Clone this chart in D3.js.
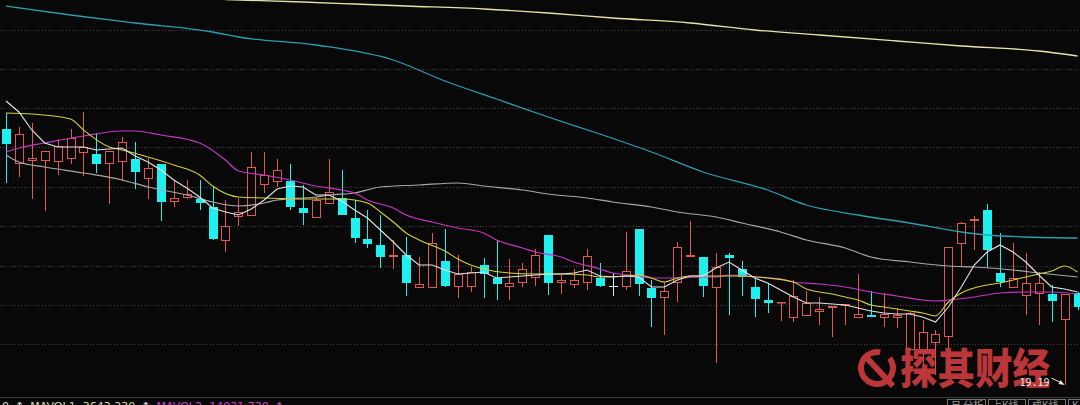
<!DOCTYPE html>
<html><head><meta charset="utf-8">
<script src="https://cdn.jsdelivr.net/npm/d3@7"></script>
<style>html,body{margin:0;padding:0;background:#080808;overflow:hidden}</style>
</head><body><svg id="c" width="1080" height="405"></svg>
<script>
// ---- candle data (price units) ----
const opens  = [24.31,23.61,23.67,23.67,23.65,23.71,23.83,23.81,23.61,23.65,23.71,23.31,23.61,22.85,22.93,22.91,22.75,22.07,22.55,22.57,23.19,23.25,23.27,22.73,22.53,22.81,22.93,22.53,22.11,21.99,21.75,21.79,21.13,21.13,21.67,21.15,21.15,21.59,21.33,21.15,21.23,21.33,22.19,21.23,21.19,21.23,21.33,21.17,21.15,22.31,21.13,20.93,21.23,21.75,21.75,21.13,21.79,21.51,21.15,20.89,20.83,20.53,20.57,20.65,20.73,20.77,20.53,20.59,20.53,20.53,19.89,19.85,20.03,20.15,22.01,22.47,22.69,21.43,21.13,20.97,21.01,21.01,20.49,21.03];
const highs  = [24.63,24.35,24.43,23.87,24.11,24.31,24.65,24.23,23.87,24.15,24.05,23.73,23.61,23.29,23.29,23.29,23.15,22.89,22.93,23.85,23.85,23.71,23.61,23.19,22.95,23.71,23.49,22.89,22.69,22.59,22.09,22.15,21.75,22.23,22.31,21.79,21.55,21.73,22.07,21.71,21.63,21.91,22.19,21.39,21.51,21.91,21.63,21.43,22.25,22.31,21.29,21.25,22.05,22.47,21.75,21.83,21.83,21.67,21.33,21.23,20.85,21.29,21.07,20.95,20.77,20.81,21.41,21.07,21.03,20.73,20.65,20.49,20.29,21.95,22.45,22.57,22.81,22.23,22.03,21.83,21.45,21.19,21.01,21.05];
const lows   = [23.23,23.35,22.91,22.67,23.39,23.61,23.37,23.43,22.81,23.27,23.11,22.91,22.47,22.75,22.91,22.69,22.09,21.85,22.37,22.57,23.03,23.15,22.69,22.39,22.53,22.81,22.59,22.03,21.93,21.53,21.51,20.97,21.13,21.13,21.15,20.93,21.05,20.93,20.89,20.89,21.15,21.17,20.99,21.01,21.13,21.09,21.15,20.97,21.09,20.97,20.35,20.19,20.85,21.75,20.95,19.63,20.59,20.97,20.55,20.63,20.47,20.45,20.57,20.39,20.15,20.39,20.53,20.55,20.35,20.33,19.89,19.35,19.39,19.39,21.57,21.89,21.53,21.15,21.13,20.59,20.39,20.45,19.19,20.69];
const closes = [24.01,24.21,23.73,23.87,23.97,24.13,23.95,23.61,23.87,24.05,23.45,23.53,22.85,22.93,23.01,22.83,22.11,22.37,22.65,23.55,23.39,23.49,22.75,22.63,22.89,23.05,22.59,22.13,22.01,21.75,21.79,21.23,21.21,22.03,21.17,21.41,21.45,21.41,21.21,21.23,21.51,21.79,21.23,21.29,21.29,21.77,21.17,21.17,21.47,21.21,20.93,21.07,21.95,21.79,21.17,21.55,21.73,21.35,20.91,20.83,20.85,20.97,20.83,20.71,20.77,20.81,20.61,20.55,20.61,20.59,20.63,20.25,20.21,21.95,22.43,22.51,21.89,21.25,21.33,21.23,21.23,20.87,21.01,20.75];

// ---- moving averages: [candle index, value] ----
const ma5Idx  = d3.range(0,84);
const ma5Val  = [24.87,24.65,24.29,24.03,23.95,23.95,23.95,23.89,23.91,23.93,23.77,23.65,23.49,23.29,23.13,22.95,22.73,22.65,22.59,22.71,22.89,23.11,23.17,23.15,22.99,22.99,22.87,22.69,22.53,22.29,22.05,21.79,21.59,21.59,21.49,21.41,21.43,21.45,21.33,21.35,21.37,21.39,21.41,21.41,21.43,21.49,21.37,21.35,21.37,21.35,21.15,21.15,21.29,21.37,21.37,21.53,21.65,21.49,21.33,21.23,21.09,20.95,20.83,20.83,20.81,20.79,20.73,20.67,20.63,20.61,20.61,20.55,20.45,20.75,21.15,21.59,21.85,21.99,21.85,21.65,21.39,21.15,21.11,21.05];
const ma10Idx = [0,2,5,6,8,9,11,13,15,16,18,20,23,26,28,29,30,31,32,34,35,36,37,39,41,43,45,46,48,49,50,51,52,53,55,57,59,61,62,63,64,65,66,67,68,70,71,72,73,74,75,76,77,78,79,80,81,82,83];
const ma10Val = [24.63,24.61,24.51,24.29,23.95,23.89,23.75,23.59,23.39,23.17,22.95,22.93,22.91,22.91,22.83,22.65,22.45,22.23,22.09,21.87,21.71,21.59,21.51,21.43,21.41,21.41,21.39,21.35,21.37,21.39,21.33,21.25,21.33,21.37,21.37,21.37,21.33,21.25,21.11,21.05,21.01,20.95,20.89,20.79,20.75,20.67,20.63,20.57,20.85,21.03,21.13,21.19,21.23,21.29,21.35,21.41,21.47,21.57,21.45];
const ma20Idx = [0,1,3,6,9,10,12,15,17,18,20,22,24,26,27,28,30,31,33,35,37,38,40,41,43,44,46,47,49,50,52,54,55,56,58,60,61,63,65,67,69,71,72,73,75,77,79,81,83];
const ma20Val = [23.85,23.93,24.03,24.17,24.27,24.27,24.19,24.03,23.69,23.47,23.39,23.29,23.17,23.09,23.03,22.89,22.73,22.59,22.45,22.33,22.23,22.09,21.93,21.85,21.75,21.65,21.51,21.43,21.37,21.33,21.33,21.35,21.35,21.39,21.35,21.31,21.25,21.21,21.15,21.05,20.97,20.89,20.87,20.89,20.95,21.03,21.05,21.05,21.01];
const ma60Idx = [0,1,3,6,9,11,14,16,18,20,21,24,25,27,29,32,35,37,40,42,45,47,50,52,55,57,60,62,65,67,70,73,75,78,80,83];
const ma60Val = [23.79,23.65,23.55,23.43,23.29,23.15,22.99,22.85,22.77,22.83,22.89,22.95,22.99,23.03,23.15,23.19,23.23,23.17,23.09,23.01,22.93,22.85,22.75,22.65,22.55,22.43,22.25,22.09,21.93,21.75,21.65,21.57,21.55,21.49,21.43,21.35];
const ma120Idx = [0,5,10,16,18,24,30,34,38,42,46,50,54,59,62,66,70,74,76,79,83];
const ma120Val = [26.77,26.59,26.43,26.25,26.15,25.99,25.69,25.27,24.91,24.55,24.21,23.85,23.45,23.09,22.79,22.59,22.43,22.25,22.19,22.15,22.13];
const ma250Idx = [17,23,27,31,37,42,47,53,58,63,69,74,80,83];
const ma250Val = [26.90,26.85,26.81,26.77,26.71,26.63,26.53,26.43,26.29,26.19,26.07,25.97,25.87,25.77];

const gridLevels = [26.29,25.51,24.73,23.94,23.16,22.37,21.58,20.80,20.01];
const lowMark = {idx:82, label:"19.19"};
const bottomLabels = [
  {t:"0", c:"#d8d8d8"}, {t:"\u2191", c:"#d8d8d8"},
  {t:"MAVOL1: 3643.230", c:"#d8d8a0"}, {t:"\u2191", c:"#d8d8d8"},
  {t:"MAVOL2: 14021.730", c:"#d040d0"}, {t:"\u2191", c:"#d040d0"}
];

// ---- drawing ----
const W=1080,H=405;
const svg=d3.select('#c');
svg.append('rect').attr('width',W).attr('height',H).attr('fill','#080808');

const x=d3.scaleLinear().domain([0,83]).range([6,1077.5]);
const y=d3.scaleLinear().domain([19.19,26.89]).range([385,0]);

// grid
svg.append('g').selectAll('line').data(gridLevels).join('line')
  .attr('x1',0).attr('x2',W)
  .attr('y1',d=>Math.round(y(d))+0.5).attr('y2',d=>Math.round(y(d))+0.5)
  .attr('stroke','#4a4444').attr('stroke-width',1).attr('stroke-dasharray','1,2');

const UP='#e0584f', DOWN='#1ef0f0', FLAT='#e8e8e8';
const cx=i=>Math.round(x(i))+0.5;
const gC=svg.append('g');
const cd=d3.range(opens.length).map(i=>({i,o:opens[i],h:highs[i],l:lows[i],c:closes[i]}));
cd.forEach(d=>{
  const X=cx(d.i);
  const top=Math.round(y(Math.max(d.o,d.c))), bot=Math.round(y(Math.min(d.o,d.c)));
  const yh=Math.round(y(d.h)), yl=Math.round(y(d.l));
  if(d.c>d.o){
    gC.append('line').attr('x1',X).attr('x2',X).attr('y1',yh).attr('y2',top).attr('stroke',UP);
    gC.append('line').attr('x1',X).attr('x2',X).attr('y1',bot).attr('y2',yl).attr('stroke',UP);
    gC.append('rect').attr('x',X-4).attr('y',top+0.5).attr('width',8).attr('height',Math.max(bot-top-1,0.5))
      .attr('fill','#080808').attr('stroke',UP).attr('stroke-width',1);
  } else if(d.c<d.o){
    gC.append('line').attr('x1',X).attr('x2',X).attr('y1',yh).attr('y2',yl).attr('stroke',DOWN);
    gC.append('rect').attr('x',X-4.5).attr('y',top).attr('width',9).attr('height',Math.max(bot-top,1))
      .attr('fill',DOWN);
  } else {
    gC.append('line').attr('x1',X).attr('x2',X).attr('y1',yh).attr('y2',yl).attr('stroke',FLAT);
    gC.append('line').attr('x1',X-4.5).attr('x2',X+4.5).attr('y1',top+0.5).attr('y2',top+0.5).attr('stroke',FLAT);
  }
});

// MA lines
function drawMA(idx,val,color,curve,w){
  const pts=idx.map((k,j)=>[x(k),y(val[j])]);
  svg.append('path').attr('d',d3.line().curve(curve)(pts))
    .attr('fill','none').attr('stroke',color).attr('stroke-width',w);
}
drawMA(ma250Idx,ma250Val,'#e6e2a8',d3.curveMonotoneX,1.3);
drawMA(ma120Idx,ma120Val,'#2a9fb0',d3.curveMonotoneX,1.3);
drawMA(ma60Idx,ma60Val,'#a8a8a8',d3.curveMonotoneX,1.2);
drawMA(ma20Idx,ma20Val,'#c436c4',d3.curveMonotoneX,1.2);
drawMA(ma10Idx,ma10Val,'#d6cf3c',d3.curveMonotoneX,1.1);
drawMA(ma5Idx,ma5Val,'#e4e4e4',d3.curveLinear,1.1);

// watermark
const wm=svg.append('g').attr('opacity',0.95);
wm.append('path').attr('d',d3.arc()({innerRadius:13,outerRadius:19,startAngle:0.9,endAngle:2*Math.PI+0.2}))
  .attr('transform','translate(877,368)').attr('fill','#c4393b');
wm.append('line').attr('x1',866).attr('y1',357).attr('x2',893).attr('y2',386)
  .attr('stroke','#c4393b').attr('stroke-width',6);
wm.append('text').attr('x',900).attr('y',384).text('探其财经')
  .attr('font-family','"Noto Sans CJK SC"').attr('font-weight',900).attr('font-size',42)
  .attr('textLength',150).attr('lengthAdjust','spacingAndGlyphs').attr('fill','#c4393b');

// low price marker
const lx=cx(lowMark.idx), ly=y(lows[lowMark.idx]);
svg.append('text').attr('x',lx-46).attr('y',ly+1).text(lowMark.label)
  .attr('font-family','"DejaVu Sans Mono"').attr('font-size',10).attr('fill','#e8e8e8');
svg.append('line').attr('x1',lx-14).attr('y1',ly-7).attr('x2',lx-2).attr('y2',ly-1)
  .attr('stroke','#e8e8e8').attr('stroke-width',1);
svg.append('path').attr('d',`M${lx-1},${ly}L${lx-7},${ly-1}L${lx-5},${ly-5}Z`).attr('fill','#e8e8e8');

// bottom bar
svg.append('line').attr('x1',0).attr('x2',W).attr('y1',397.5).attr('y2',397.5).attr('stroke','#3a3a3a');
let bx=2;
const bt=svg.append('g');
bottomLabels.forEach(b=>{
  const t=bt.append('text').attr('x',bx).attr('y',410).text(b.t)
    .attr('font-family','"DejaVu Sans"').attr('font-size',11).attr('fill',b.c);
  bx+=t.node().getComputedTextLength()+6;
});
const tabs=[{x:947,w:38,t:'日 分析'},{x:988,w:37,t:'上K线'},{x:1028,w:37,t:'成K线'},{x:1068,w:14,t:'K'}];
const tg=svg.append('g');
tabs.forEach(tb=>{
  tg.append('rect').attr('x',tb.x+0.5).attr('y',399.5).attr('width',tb.w).attr('height',10)
    .attr('fill','#080808').attr('stroke','#777');
  tg.append('text').attr('x',tb.x+4).attr('y',409).text(tb.t)
    .attr('font-family','"Noto Sans CJK SC"').attr('font-size',10).attr('fill','#999');
});
</script></body></html>
